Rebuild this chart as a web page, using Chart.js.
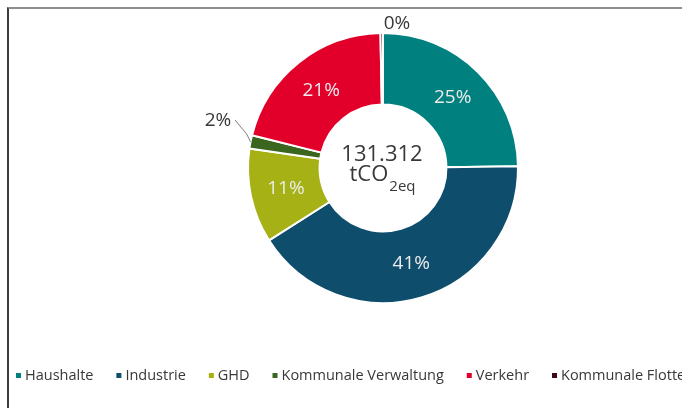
<!DOCTYPE html>
<html>
<head>
<meta charset="utf-8">
<script src="https://cdn.jsdelivr.net/npm/chart.js@4.4.0/dist/chart.umd.min.js"></script>
<style>
  html, body { margin: 0; padding: 0; background: #fff; }
  .frame { position: relative; width: 682px; height: 408px; overflow: hidden; }
  .frame:before {
    content: ''; position: absolute; left: 7px; top: 7px; right: 0; bottom: 0;
    border-top: 2px solid #8e8e8e; border-left: 2px solid #3c3c3c;
  }
  canvas { position: absolute; left: 0; top: 0; }
</style>
</head>
<body>
<div class="frame"><canvas id="chart" width="682" height="408"></canvas></div>
<script>
const categories = ['Haushalte', 'Industrie', 'GHD', 'Kommunale Verwaltung', 'Verkehr', 'Kommunale Flotte'];
const shares = [24.8, 41.2, 11.3, 1.6, 20.8, 0.3];
const colors = ['#00807f', '#0f4d6c', '#a5b114', '#3b6620', '#e2002b', '#3c0c16'];
const totalValue = '131.312';
const unitMain = 'tCO';
const unitSub = '2eq';

const FONT = '"Open Sans", "Noto Sans", sans-serif';
const TEXT = '#383838';

// labels, center text and legend drawn on the canvas
const decorations = {
  id: 'decorations',
  afterDraw(chart) {
    const ctx = chart.ctx;
    const arcs = chart.getDatasetMeta(0).data;
    const cx = arcs[0].x, cy = arcs[0].y;
    const outer = arcs[0].outerRadius;
    ctx.save();
    ctx.textAlign = 'center';
    ctx.textBaseline = 'middle';

    arcs.forEach((arc, i) => {
      const txt = Math.round(shares[i]) + '%';
      if (shares[i] >= 5) {
        const p = arc.tooltipPosition();
        ctx.font = '19px ' + FONT;
        ctx.fillStyle = '#ececec';
        ctx.fillText(txt, p.x, p.y);
      }
    });

    // small slices outside
    ctx.font = '19px ' + FONT;
    ctx.fillStyle = TEXT;
    ctx.fillText(Math.round(shares[5]) + '%', cx + 14, cy - outer - 9);

    const a3 = arcs[3];
    const mid = (a3.startAngle + a3.endAngle) / 2;
    const ex = cx + Math.cos(mid) * outer, ey = cy + Math.sin(mid) * outer;
    const lx = cx - 165, ly = cy - 47;
    ctx.fillText(Math.round(shares[3]) + '%', lx, ly);
    ctx.strokeStyle = '#808080';
    ctx.lineWidth = 1;
    ctx.beginPath();
    ctx.moveTo(lx + 17, ly - 1);
    ctx.lineTo(ex - 4, ey - 8);
    ctx.lineTo(ex, ey);
    ctx.stroke();

    // center text
    ctx.fillStyle = TEXT;
    ctx.font = '22px ' + FONT;
    ctx.fillText(totalValue, cx - 1, cy - 13);
    ctx.textAlign = 'left';
    ctx.textBaseline = 'alphabetic';
    const wMain = ctx.measureText(unitMain).width;
    ctx.font = '15px ' + FONT;
    const wSub = ctx.measureText(unitSub).width;
    const sx = cx - 1 - (wMain + wSub) / 2;
    ctx.font = '22px ' + FONT;
    ctx.fillText(unitMain, sx, cy + 13);
    ctx.font = '15px ' + FONT;
    ctx.fillText(unitSub, sx + wMain + 1, cy + 23);

    // legend
    ctx.font = '14.5px ' + FONT;
    ctx.textBaseline = 'middle';
    const widths = categories.map(c => ctx.measureText(c).width);
    const startX = 16, lastX = 552, box = 5, pad = 9, ly2 = 376;
    const used = widths.slice(0, 5).reduce((s, w) => s + w + pad, 0);
    const gap = (lastX - startX - used) / 5;
    let x = startX;
    categories.forEach((c, i) => {
      ctx.fillStyle = colors[i];
      ctx.fillRect(x, ly2 - 3, box, box);
      ctx.fillStyle = TEXT;
      ctx.fillText(c, x + pad, ly2);
      x += pad + widths[i] + gap;
    });
    ctx.restore();
  }
};

new Chart(document.getElementById('chart'), {
  type: 'doughnut',
  data: {
    labels: categories,
    datasets: [{
      data: shares,
      backgroundColor: colors,
      borderColor: '#ffffff',
      borderWidth: 2,
      hoverOffset: 0
    }]
  },
  options: {
    responsive: false,
    animation: false,
    cutout: '47%',
    layout: { padding: { left: 247, right: 163, top: 32, bottom: 104 } },
    plugins: {
      legend: { display: false },
      tooltip: { enabled: false }
    }
  },
  plugins: [decorations]
});
</script>
</body>
</html>
